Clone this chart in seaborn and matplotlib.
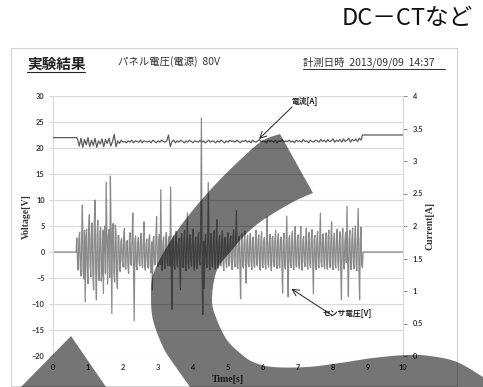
import numpy as np
import pandas as pd
import matplotlib
matplotlib.use("Agg")
import matplotlib.pyplot as plt
import seaborn as sns
from matplotlib.patches import Polygon, Rectangle
from matplotlib.lines import Line2D

# ---------------- data ----------------
# sensor voltage [V]
volt_pre_t = [0.0, 0.66]
volt_pre = [0.0, 0.0]
volt_start, volt_step = 0.68, 0.02
# samples at even steps (0.68, 0.72, ...)
volt_even = [
    2.7, -3.5, 3.8, -4.6, 9.0, -5.2, -9.6, 4.4, -6.1, 7.2,
    -4.8, 5.6, -7.3, 10.0, -9.2, 6.1, -5.5, 4.8, -3.9, -8.0,
    5.0, 13.4, -6.2, 4.3, 14.6, -11.8, 5.5, -5.8, 4.0, -7.0,
    3.2, -3.8, 2.6, -2.9, 4.5, -3.3, 2.2, -4.1, 3.7, -2.6,
    7.5, -13.2, 3.1, -3.4, 2.8, -2.7, 3.6, -3.0, 5.8, -3.5,
    2.5, -3.1, 3.3, -4.0, -7.3, 3.0, -2.4, 6.8, -2.8, 3.4,
    12.0, -3.5, 2.9, -3.2, 3.8, -2.7, 3.0, 12.5, -11.0, 3.1,
    -3.3, 4.0, -2.9, 2.6, -7.3, 3.5, -3.0, 4.2, -3.6, 7.5,
    -3.1, 3.3, -2.8, 4.4, -3.5, 2.9, -3.2, 3.8, -2.5, 25.8,
    -12.0, -7.0, 3.4, -3.0, 13.3, -3.4, 3.6, -2.9, 4.1, -3.3,
    6.2, -3.1, 3.2, -2.7, 4.0, -3.6, 2.8, -3.0, 3.7, -2.6,
    3.1, -3.4, 4.3, -2.9, 8.0, -3.2, 3.0, -9.0, 3.5, -3.1,
    4.0, -6.0, 3.2, -2.8, 3.6, -3.4, 2.9, -3.0, 4.2, -2.7,
    3.3, -3.5, 3.9, -3.0, 2.8, -3.3, 6.8, -2.9, 3.4, -3.6,
    3.0, -2.8, 4.1, -3.2, 3.5, -3.0, 2.9, -7.9, 3.6, -3.3,
    6.9, -8.6, 3.2, -3.0, 4.0, -3.4, 4.9, -2.9, 3.3, -3.2,
    4.9, -3.5, 3.0, -2.8, 4.6, -3.3, 3.8, -3.0, 4.3, -8.0,
    3.2, -3.4, 4.0, -3.0, 7.5, -2.9, 3.5, -3.2, 3.7, -3.3,
    4.2, -3.0, 5.8, -3.4, 3.6, -3.1, 4.4, -3.5, 3.9, -9.2,
    4.5, -3.3, 3.8, 8.8, -8.6, 4.2, -3.4, 4.6, -3.2, 5.0,
    -3.6, 8.4, -9.2, 4.8, -3.0,
]
# samples in between (0.70, 0.74, ...)
volt_odd = [
    -1.8, 2.4, -2.9, 3.1, -3.6, 4.2, 2.8, -3.7, 4.9, -2.6,
    3.5, -4.4, 5.1, -3.8, 3.2, -4.7, 3.9, -5.6, 4.2, 3.6,
    -4.1, 3.8, 2.9, -4.9, 3.7, 4.6, -3.9, 5.2, -4.4, 3.1,
    -2.4, 2.1, -1.8, 2.7, -2.9, 1.9, -2.6, 2.3, -2.2, 2.9,
    -2.5, 2.2, -2.7, 1.8, -2.1, 2.6, -2.3, 2.0, -2.8, 1.7,
    -2.0, 2.4, -2.6, 1.9, 2.3, -2.5, 2.7, -2.1, 2.2, -2.4,
    -2.2, 1.9, -2.4, 2.6, -2.0, 2.3, -2.7, -1.8, 2.1, -2.5,
    2.2, -2.3, 1.8, -2.6, 2.5, -2.1, 2.4, -2.8, 2.0, -2.2,
    2.6, -2.0, 2.3, -2.5, 1.9, -2.4, 2.2, -1.9, 2.7, -3.0,
    2.1, 1.8, -2.2, 2.5, -2.4, 2.0, -2.6, 2.3, -2.1, 2.4,
    -2.3, 2.0, -2.5, 2.2, -2.1, 2.6, -1.9, 2.4, -2.7, 2.1,
    -2.2, 2.5, -2.0, 2.3, -2.6, 1.9, -2.4, 2.2, -2.5, 2.0,
    -2.4, 2.1, -2.3, 2.6, -2.0, 2.2, -2.5, 1.8, -2.2, 2.4,
    -2.1, 2.3, -2.6, 2.0, -2.4, 2.5, -2.2, 1.9, -2.3, 2.6,
    -2.0, 2.4, -2.2, 2.1, -2.5, 2.3, -1.9, 2.2, -2.6, 2.0,
    -2.4, 2.5, -2.1, 2.3, -2.2, 2.0, -2.6, 2.4, -2.3, 2.1,
    -2.5, 2.2, -2.0, 2.6, -2.3, 2.1, -2.4, 2.5, -2.2, 2.3,
    -2.1, 2.4, -2.6, 2.2, -2.0, 2.5, -2.3, 2.1, -2.4, 2.6,
    -2.2, 2.3, -2.5, 2.0, -2.4, 2.6, -2.1, 2.2, -2.6, 2.4,
    -2.3, 2.1, -2.0, -2.5, 2.4, -2.2, 2.6, -2.1, 2.3, -2.4,
    2.2, -2.5, 2.1, -2.3,
]
volt_post_t = [8.86, 10.0]
volt_post = [0.0, 0.0]

# current [A]
cur_pre_t = [0.0, 0.68]
cur_pre = [3.36, 3.36]
cur_start, cur_step = 0.70, 0.05
cur_noise = [
    3.34, 3.23, 3.35, 3.21, 3.33, 3.25, 3.36, 3.22, 3.32, 3.24,
    3.35, 3.21, 3.31, 3.26, 3.34, 3.22, 3.33, 3.27, 3.35, 3.23,
    3.30, 3.41, 3.22, 3.31, 3.27, 3.32, 3.29, 3.30, 3.28, 3.31,
    3.29, 3.32, 3.28, 3.31, 3.30, 3.29, 3.32, 3.28, 3.31, 3.30,
    3.29, 3.31, 3.28, 3.32, 3.30, 3.28, 3.31, 3.29, 3.32, 3.30,
    3.29, 3.31, 3.40, 3.22, 3.30, 3.32, 3.28, 3.31, 3.29, 3.32,
    3.30, 3.28, 3.31, 3.29, 3.32, 3.30, 3.28, 3.31, 3.30, 3.29,
    3.32, 3.29, 3.31, 3.28, 3.30, 3.32, 3.29, 3.31, 3.30, 3.28,
    3.31, 3.29, 3.32, 3.30, 3.28, 3.31, 3.29, 3.32, 3.30, 3.31,
    3.29, 3.32, 3.30, 3.28, 3.31, 3.30, 3.32, 3.29, 3.31, 3.28,
    3.32, 3.30, 3.29, 3.31, 3.33, 3.29, 3.31, 3.30, 3.28, 3.32,
    3.30, 3.31, 3.29, 3.32, 3.28, 3.31, 3.30, 3.33, 3.29, 3.31,
    3.30, 3.32, 3.29, 3.31, 3.28, 3.32, 3.30, 3.31, 3.29, 3.33,
    3.30, 3.31, 3.28, 3.32, 3.30, 3.29, 3.32, 3.31, 3.29, 3.33,
    3.30, 3.32, 3.29, 3.33, 3.30, 3.31, 3.34, 3.29, 3.32, 3.30,
    3.33, 3.29, 3.34, 3.30, 3.32, 3.35, 3.29, 3.33, 3.31, 3.34,
    3.30, 3.35, 3.32,
]
cur_post_t = [8.84, 10.0]
cur_post = [3.40, 3.40]

volt_ticks = [-20, -15, -10, -5, 0, 5, 10, 15, 20, 25, 30]
cur_ticks = [0, 0.5, 1, 1.5, 2, 2.5, 3, 3.5, 4]
cur_tick_labels = ["0", "0.5", "1", "1.5", "2", "2.5", "3", "3.5", "4"]
time_ticks = [0, 1, 2, 3, 4, 5, 6, 7, 8, 9, 10]

# ---------------- frames ----------------
volt_noise = np.empty(len(volt_even) + len(volt_odd))
volt_noise[0::2] = volt_even
volt_noise[1::2] = volt_odd
vt = np.concatenate([volt_pre_t, volt_start + volt_step * np.arange(len(volt_noise)), volt_post_t])
vv = np.concatenate([volt_pre, volt_noise, volt_post])
df_v = pd.DataFrame({"t": vt, "v": vv})
ct = np.concatenate([cur_pre_t, cur_start + cur_step * np.arange(len(cur_noise)), cur_post_t])
cv = np.concatenate([cur_pre, cur_noise, cur_post])
df_c = pd.DataFrame({"t": ct, "a": cv})

# ---------------- figure ----------------
sns.set_theme(style="white")
plt.rcParams["font.family"] = ["Noto Sans CJK JP", "DejaVu Sans"]

W, H = 483, 387
fig = plt.figure(figsize=(W / 100, H / 100), dpi=100)
fig.patch.set_facecolor("white")

def fx(x):
    return x / W

def fy(y):
    return 1 - y / H

fig.add_artist(Rectangle((fx(11), fy(386)), fx(457) - fx(11), fy(48) - fy(386),
                         transform=fig.transFigure, fill=False, edgecolor="#d2d2d2", lw=0.8))

ax = fig.add_axes([fx(53), fy(356), (403 - 53) / W, (356 - 96) / H])
sns.lineplot(data=df_v, x="t", y="v", ax=ax, color="#8a8a8a", lw=0.9,
             estimator=None, sort=False)
ax2 = ax.twinx()
sns.lineplot(data=df_c, x="t", y="a", ax=ax2, color="#5c5c5c", lw=0.9,
             estimator=None, sort=False)

ax.set_xlim(0, 10)
ax.set_ylim(-20, 30)
ax.set_yticks(volt_ticks)
ax.set_xticks(time_ticks)
ax2.set_ylim(0, 4)
ax2.set_yticks(cur_ticks)
ax2.set_yticklabels(cur_tick_labels)

ax.grid(axis="y", color="#d9d9d9", lw=0.8)
ax.grid(axis="x", visible=False)
ax2.grid(False)
for s in ["top", "bottom", "right"]:
    ax.spines[s].set_visible(False)
ax.spines["left"].set_color("#d9d9d9")
ax.spines["left"].set_linewidth(0.8)
for s in ["top", "bottom", "left"]:
    ax2.spines[s].set_visible(False)
ax2.spines["right"].set_color("#d9d9d9")
ax2.spines["right"].set_linewidth(0.8)

ax.tick_params(axis="y", left=True, length=3, width=0.8, color="#d9d9d9",
               labelsize=5.3, pad=3, labelcolor="#333333")
ax.tick_params(axis="x", bottom=False, length=0, labelsize=5.3, pad=5.5, labelcolor="#333333")
ax2.tick_params(axis="y", right=True, length=3, width=0.7, color="#888888",
                labelsize=5.3, pad=4, labelcolor="#333333")
for lbl in ax.get_yticklabels() + ax.get_xticklabels() + ax2.get_yticklabels():
    lbl.set_fontweight("bold")
    lbl.set_family("Lato")

lab_kw = dict(fontsize=7, fontweight="bold", family="Liberation Serif", color="#333333")
ax.set_xlabel("Time[s]", **lab_kw)
ax.set_ylabel("Voltage[V]", **lab_kw)
ax2.set_ylabel("Current[A]", **lab_kw)
ax.xaxis.set_label_coords(0.5, (356 - 380) / 260)
ax.xaxis.label.set_va("center")
ax.yaxis.set_label_coords((26 - 53) / 350, 0.536)
ax.yaxis.label.set_va("center")
ax2.yaxis.set_label_coords((430 - 53) / 350, 0.5)
ax2.yaxis.label.set_va("center")

# annotations
arr = dict(arrowstyle="->", color="#222222", lw=0.7, shrinkA=0, shrinkB=0)
ax2.annotate("", xy=(5.886, 21.73), xytext=(6.83, 27.9),
             xycoords=ax.transData, textcoords=ax.transData, arrowprops=arr)
ax2.text(7.2, 29.0, "電流[A]", transform=ax.transData, fontsize=5.6,
         fontweight="bold", ha="center", va="center", color="#222222")
ax2.annotate("", xy=(6.81, -7.08), xytext=(7.96, -12.1),
             xycoords=ax.transData, textcoords=ax.transData, arrowprops=arr)
ax2.text(8.4, -11.73, "センサ電圧[V]", transform=ax.transData, fontsize=5.6,
         fontweight="bold", ha="center", va="center", color="#222222")

# header texts
fig.text(fx(473), fy(18), "DC－CTなど", fontsize=17, ha="right", va="center", color="#111111")
fig.text(fx(27), fy(64), "実験結果", fontsize=10.5, fontweight="bold", ha="left", va="center", color="#222222")
fig.add_artist(Line2D([fx(27), fx(85)], [fy(72), fy(72)], transform=fig.transFigure, color="#222222", lw=0.8))
fig.text(fx(118), fy(62), "パネル電圧(電源)  80V", fontsize=7.5, ha="left", va="center", color="#333333")
fig.text(fx(303), fy(62), "計測日時  2013/09/09  14:37", fontsize=7.5, ha="left", va="center", color="#333333")
fig.add_artist(Line2D([fx(303), fx(445)], [fy(68.5), fy(68.5)], transform=fig.transFigure, color="#333333", lw=0.7))

# overlay shapes (decorative gray band and triangle)
def smooth(pts, n=10):
    pts = np.asarray(pts, float)
    P = np.vstack([pts[0], pts, pts[-1]])
    out = []
    for i in range(1, len(P) - 2):
        p0, p1, p2, p3 = P[i - 1], P[i], P[i + 1], P[i + 2]
        for s in np.linspace(0, 1, n, endpoint=False):
            out.append(0.5 * ((2 * p1) + (-p0 + p2) * s + (2 * p0 - 5 * p1 + 4 * p2 - p3) * s ** 2
                              + (-p0 + 3 * p1 - 3 * p2 + p3) * s ** 3))
    out.append(pts[-1])
    return np.array(out)

outer = [(280, 134), (262, 141), (240, 160), (213, 187), (185, 220), (165, 250), (153, 275),
         (151, 295), (153, 320), (163, 347), (173, 363), (190, 387)]
inner = [(483, 377), (457, 362), (430, 356), (407, 355), (373, 358), (340, 363), (307, 367),
         (273, 367), (253, 362), (240, 353), (227, 340), (217, 320), (212, 300), (217, 270),
         (232, 250), (245, 235), (263, 220), (293, 202), (313, 193)]
band = np.vstack([smooth(outer), [(483, 387)], smooth(inner)])
band_fig = np.column_stack([band[:, 0] / W, 1 - band[:, 1] / H])
fig.add_artist(Polygon(band_fig, closed=True, transform=fig.transFigure,
                       facecolor="black", alpha=0.54, edgecolor="none", zorder=20))
tri = np.array([(71, 336), (21, 387), (106, 387)], float)
tri_fig = np.column_stack([tri[:, 0] / W, 1 - tri[:, 1] / H])
fig.add_artist(Polygon(tri_fig, closed=True, transform=fig.transFigure,
                       facecolor="black", alpha=0.54, edgecolor="none", zorder=20))

fig.savefig("out.png", dpi=100, facecolor="white")
